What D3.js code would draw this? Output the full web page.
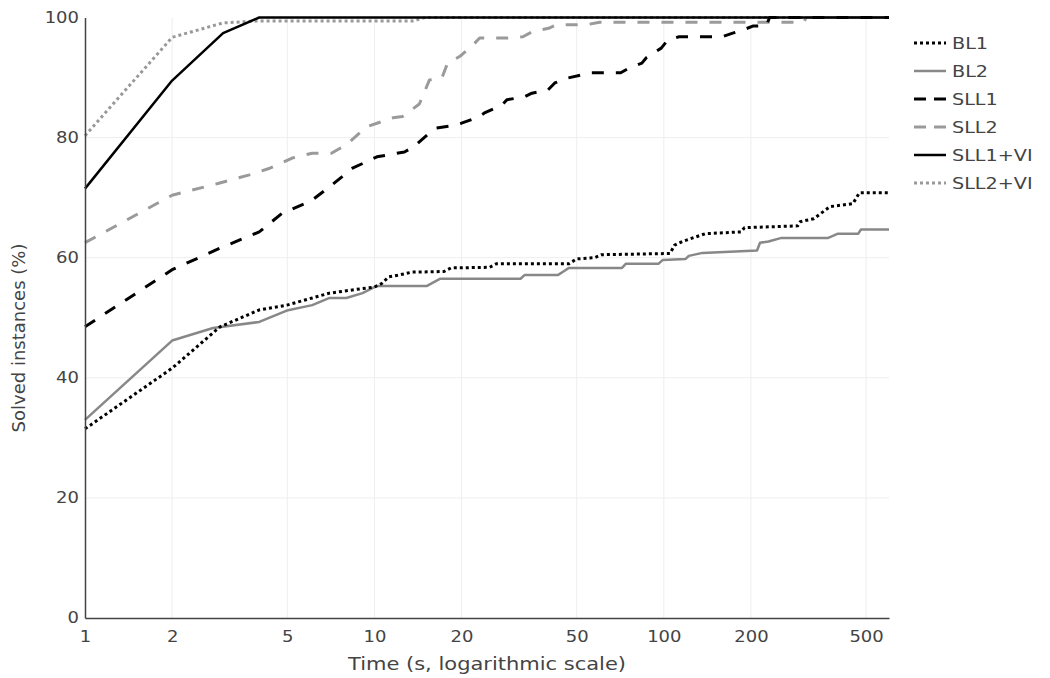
<!DOCTYPE html>
<html>
<head>
<meta charset="utf-8">
<script src="https://cdn.jsdelivr.net/npm/d3@7"></script>
<style>
  body { margin: 0; background: #fff; }
  text { font-family: "DejaVu Sans", Verdana, sans-serif; }
</style>
</head>
<body>
<svg id="chart" width="1050" height="678"></svg>
<script>
// data: time (s) and solved instances (%)
var bl1Time   = [1,2,2.93,4,4.98,6.1,7,8.9,10,10.6,11.2,12.1,13.5,17.4,18.4,25,26.4,47,50,57.6,61,105,109,116,139,185,190,290,296,330,375,450,474,600];
var bl1Solved = [31.5,41.6,48.5,51.3,52.1,53.3,54.1,54.8,55.1,55.7,56.8,57.1,57.6,57.7,58.3,58.4,59.0,59.0,59.8,60.0,60.5,60.7,62.1,62.7,64.0,64.3,65.0,65.3,66,66.5,68.5,69,70.8,70.8];

var bl2Time   = [1,2,2.77,4,4.98,6.1,7,8,9.1,10.2,15.2,16.9,32,33,43,45,47,71.7,74,96,99,119,122,136,210,215,230,255,370,400,470,480,600];
var bl2Solved = [33,46.2,48.3,49.3,51.2,52.1,53.3,53.3,54.1,55.3,55.3,56.5,56.5,57.1,57.1,57.7,58.3,58.3,59.0,59.0,59.6,59.8,60.3,60.8,61.2,62.5,62.7,63.3,63.3,64,64,64.7,64.7];

var sll1Time   = [1,2,2.9,4,4.8,5.8,6.1,7,8.4,10.2,12.7,13.6,15.2,16.4,18.7,20,22.8,24,27.6,28.7,33,35,39.7,42,46.4,56,71,76,84,87,98,103,113,159,173,187,204,226,232,600];
var sll1Solved = [48.5,58,61.5,64.3,67.4,69.1,69.6,71.8,74.9,76.8,77.6,78.4,80.4,81.6,82,82.4,83.4,84.1,85.4,86.3,86.8,87.4,87.9,89.1,89.9,90.8,90.8,91.6,92.4,93.3,94.9,96.2,96.8,96.8,97.4,97.9,98.6,98.6,100,100];

var sll2Time   = [1,2,2.9,3.7,4.35,5.2,6.1,7.1,8,9.4,11.6,12.5,14.3,15.5,17.1,17.9,19.7,21.9,23.1,28.9,32.6,35.3,40,42.5,54,60,305,310,600];
var sll2Solved = [62.5,70.4,72.4,73.8,74.9,76.6,77.4,77.4,78.8,81.8,83.3,83.5,85.6,89.6,89.9,92.4,93.5,95.4,96.6,96.6,96.8,97.7,98.2,98.8,98.8,99.2,99.2,100,100];

var sll1viTime   = [1,2,3,4,600];
var sll1viSolved = [71.5,89.5,97.4,100,100];

var sll2viTime   = [1,2,3,3.9,13.5,15,600];
var sll2viSolved = [80.3,96.7,99.1,99.4,99.4,100,100];

var seriesNames = ["BL1","BL2","SLL1","SLL2","SLL1+VI","SLL2+VI"];
var xTicks = [1,2,5,10,20,50,100,200,500];
var yTicks = [0,20,40,60,80,100];

// drawing order: grey ones first, black ones on top
var series = [
  {name:"SLL2+VI", t:sll2viTime, v:sll2viSolved, color:"#999", width:3, dash:"3,3"},
  {name:"SLL2",    t:sll2Time,   v:sll2Solved,   color:"#9a9a9a", width:3, dash:"12,12"},
  {name:"BL2",     t:bl2Time,    v:bl2Solved,    color:"#888", width:2.5, dash:null},
  {name:"SLL1+VI", t:sll1viTime, v:sll1viSolved, color:"#000", width:2.5, dash:null},
  {name:"SLL1",    t:sll1Time,   v:sll1Solved,   color:"#000", width:3, dash:"12,12"},
  {name:"BL1",     t:bl1Time,    v:bl1Solved,    color:"#000", width:3, dash:"3,3"}
];
function styleOf(name){
  for (var i=0;i<series.length;i++) if (series[i].name==name) return series[i];
}

var svg = d3.select("#chart");
// plot box (note: "top" is taken by window.top)
var plotL = 85, plotR = 889, plotT = 17.5, plotB = 618;
var stretch = 1.2;   // the text in the picture is drawn a bit wide

var x = d3.scaleLog().domain([1, 600]).range([plotL, plotR]);
var y = d3.scaleLinear().domain([0, 100]).range([plotB, plotT]);

// grid
svg.append("g").selectAll("line")
  .data(xTicks.slice(1))
  .enter().append("line")
  .attr("x1", function(d){ return x(d); })
  .attr("x2", function(d){ return x(d); })
  .attr("y1", plotT).attr("y2", plotB)
  .attr("stroke", "#eee").attr("stroke-width", 1);
svg.append("g").selectAll("line")
  .data(yTicks.slice(1, 5))
  .enter().append("line")
  .attr("x1", plotL).attr("x2", plotR)
  .attr("y1", function(d){ return y(d); })
  .attr("y2", function(d){ return y(d); })
  .attr("stroke", "#eee").attr("stroke-width", 1);

// curves
var line = d3.line()
  .x(function(d){ return x(d[0]); })
  .y(function(d){ return y(d[1]); });

series.forEach(function(s){
  var pts = s.t.map(function(t, i){ return [t, s.v[i]]; });
  svg.append("path")
    .datum(pts)
    .attr("d", line)
    .attr("fill", "none")
    .attr("stroke", s.color)
    .attr("stroke-width", s.width)
    .attr("stroke-dasharray", s.dash)
    .attr("stroke-linejoin", "round");
});

// axes
var xAxis = svg.append("g")
  .attr("transform", "translate(0," + plotB + ")")
  .call(d3.axisBottom(x).tickValues(xTicks).tickFormat(d3.format("d")).tickSize(0).tickPadding(13));
var yAxis = svg.append("g")
  .attr("transform", "translate(" + plotL + ",0)")
  .call(d3.axisLeft(y).tickValues(yTicks).tickSize(0).tickPadding(5));
[xAxis, yAxis].forEach(function(a){
  a.select(".domain").attr("stroke", "#444").attr("stroke-width", 1.5);
  a.selectAll("text").attr("fill", "#444").style("font-size", "15px");
});
// widen tick labels around their anchor
xAxis.selectAll(".tick text").attr("transform", "scale(" + stretch + ",1)");
yAxis.selectAll(".tick text").attr("transform", "scale(" + stretch + ",1)");

svg.append("text")
  .attr("transform", "translate(" + (plotL + plotR) / 2 + ",670) scale(" + stretch + ",1)")
  .attr("text-anchor", "middle")
  .attr("fill", "#444").style("font-size", "17.5px")
  .text("Time (s, logarithmic scale)");
svg.append("text")
  .attr("transform", "translate(25,338) rotate(-90)")
  .attr("text-anchor", "middle")
  .attr("fill", "#444").style("font-size", "18px")
  .text("Solved instances (%)");

// legend
var legend = svg.append("g").attr("transform", "translate(914,43)");
seriesNames.forEach(function(n, i){
  var s = styleOf(n);
  legend.append("line")
    .attr("x1", 0).attr("x2", 32)
    .attr("y1", i * 28).attr("y2", i * 28)
    .attr("stroke", s.color)
    .attr("stroke-width", s.width)
    .attr("stroke-dasharray", s.dash ? (s.dash == "3,3" ? "3,3" : "12,8") : null);
  legend.append("text")
    .attr("transform", "translate(38," + i * 28 + ") scale(" + stretch + ",1)")
    .attr("dy", "0.35em")
    .attr("fill", "#444").style("font-size", "16px")
    .text(n);
});
</script>
</body>
</html>
